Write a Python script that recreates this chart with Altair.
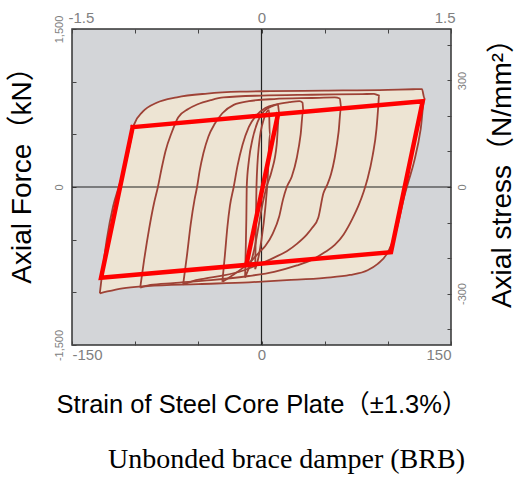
import altair as alt
import pandas as pd

# ---------------- data ----------------
# hysteresis loops: strain (x, -150..150) and axial force (y, kN)
loop1_x = [-128, -126, -122.5, -117.5, -113, -109.5, -106, -103, -101, -94, -83, -67, -43, -17, 7, 50, 100, 120, 127, 129,
           126, 121, 116, 113, 107, 99, 92, 84, 70, 50, 20, -10, -50, -90, -110, -122, -128]
loop1_y = [-1010, -810, -500, -185, 0, 136, 300, 470, 590, 715, 800, 852, 887, 905, 910, 915, 922, 928, 930, 840,
           550, 250, 40, -90, -400, -640, -730, -790, -835, -862, -885, -905, -922, -940, -962, -992, -1010]

loop2_x = [-96, -93, -89, -85, -82, -79, -76, -71, -66, -58, -51, -40, -30, 0, 40, 80, 89, 93, 92.5, 91, 88,
           84, 81, 77, 72, 65, 58, 50, 40, 28, 10, -10, -40, -70, -88, -96]
loop2_y = [-955, -700, -400, -150, 0, 180, 340, 520, 660, 740, 783, 825, 850, 868, 876, 882, 884, 870, 780, 550, 300,
           80, -40, -170, -300, -450, -550, -620, -690, -745, -805, -845, -885, -912, -930, -955]

loop3_x = [-62, -59, -56, -53, -51, -49, -46, -42, -37, -31, -22, -10, 10, 40, 58, 62, 63, 61, 58, 55, 52,
           49, 45, 40, 36, 28, 20, 10, 4, -5, -15, -30, -45, -55, -62]
loop3_y = [-925, -650, -350, -120, 0, 150, 320, 480, 600, 700, 780, 815, 835, 845, 850, 840, 760, 520, 280, 120, 20,
           -60, -290, -390, -450, -540, -610, -670, -704, -750, -795, -840, -870, -895, -925]

loop4_x = [-31, -29, -27, -25, -22, -19, -15, -10, -4, 3, 12, 22, 30, 32.5, 33, 31, 28, 24, 20, 17, 14,
           9, 3, -1, -8, -15, -22, -27, -31]
loop4_y = [-900, -650, -380, -180, 0, 200, 400, 570, 680, 750, 785, 805, 815, 800, 730, 500, 280, 100, 0, -120, -280,
           -440, -560, -610, -700, -770, -830, -870, -900]

loop5_x = [-13, -12.5, -12, -11.7, -10, -7, -3, 2, 8, 13, 14, 12, 8, 4, 1, -2, -5, -8, -11, -13]
loop5_y = [-860, -600, -300, 0, 250, 460, 620, 720, 765, 785, 700, 400, 150, 0, -150, -350, -550, -700, -800, -860]

loop6_x = [-5, -4.5, -4, -2, 2, 6, 6.5, 5, 3, 0, -3, -5]
loop6_y = [-780, -400, 0, 400, 650, 730, 500, 100, -200, -500, -700, -780]

# red bilinear model lines
red_outer_x = [-102, 127.6, 102.5, -127, -102]
red_outer_y = [568, 815, -619, -862, 568]
red_inner_x = [13, -12]
red_inner_y = [690, -740]

# axes
strain_domain = [-150, 150]
force_domain = [-1500, 1500]
pct_domain = [-1.5, 1.5]
stress_domain = [-445, 445]
x_ticks = [-150, -100, -50, 0, 50, 100, 150]
x_label_values = [-150, 0, 150]
x_label_texts = ["-150", "0", "150"]
top_ticks = [-1.5, -1.0, -0.5, 0, 0.5, 1.0, 1.5]
top_label_values = [-1.5, 0, 1.5]
top_label_texts = ["-1.5", "0", "1.5"]
y_ticks = [-1500, -1000, -500, 0, 500, 1000, 1500]
y_label_values = [-1500, 0, 1500]
y_label_texts = ["-1,500", "0", "1,500"]
r_ticks = [-400, -300, -200, -100, 0, 100, 200, 300, 400]
r_label_values = [-300, 0, 300]
r_label_texts = ["-300", "0", "300"]

x_title = "Strain of Steel Core Plate（±1.3%）"
y_title = "Axial Force（kN）"
r_title = "Axial stress（N/mm²）"
caption = "Unbonded brace damper (BRB)"

# ---------------- tables ----------------
loops = [(loop1_x, loop1_y), (loop2_x, loop2_y), (loop3_x, loop3_y),
         (loop4_x, loop4_y), (loop5_x, loop5_y), (loop6_x, loop6_y)]
rows = []
for lid, (xs, ys) in enumerate(loops):
    for i, (a, b) in enumerate(zip(xs, ys)):
        rows.append({"loop": lid, "i": i, "x": a, "y": b})
loop_df = pd.DataFrame(rows)

red_rows = []
for sid, (xs, ys) in enumerate([(red_outer_x, red_outer_y), (red_inner_x, red_inner_y)]):
    for i, (a, b) in enumerate(zip(xs, ys)):
        red_rows.append({"seg": sid, "i": i, "x": a, "y": b})
red_df = pd.DataFrame(red_rows)


def label_expr(values, texts):
    parts = [f"datum.value == {v} ? '{t}'" for v, t in zip(values, texts)]
    return " : ".join(parts) + " : ''"


SANS = "Liberation Sans, 'Noto Sans CJK JP'"
LABEL_GREY = "#808080"
TICK = "#444444"

bottom_axis = alt.Axis(
    orient="bottom", values=x_ticks, labelExpr=label_expr(x_label_values, x_label_texts),
    offset=-4, tickSize=4, tickColor=TICK, domain=False, grid=False,
    labelPadding=2, labelFont="Liberation Sans", labelFontSize=15, labelColor=LABEL_GREY,
    labelFlush=True, labelOverlap=False,
    title=x_title, titleFont=SANS, titleFontSize=25.5, titleFontWeight="normal", titleColor="black",
    titleY=71, titleBaseline="alphabetic")
left_axis = alt.Axis(
    orient="left", values=y_ticks, labelExpr=label_expr(y_label_values, y_label_texts),
    offset=-4, tickSize=4, tickColor=TICK, domain=False, grid=False,
    labelAngle=270, labelAlign="center", labelBaseline="bottom", labelPadding=8,
    labelFont="Liberation Sans", labelFontSize=11, labelColor=LABEL_GREY, labelOverlap=False,
    title=y_title, titleFont=SANS, titleFontSize=28, titleFontWeight="normal", titleColor="black",
    titleAngle=270, titleAlign="center", titleBaseline="alphabetic", titleX=-46, titleY=139)
top_axis = alt.Axis(
    orient="top", values=top_ticks, labelExpr=label_expr(top_label_values, top_label_texts),
    offset=-4, tickSize=4, tickColor=TICK, domain=False, grid=False,
    labelPadding=4, labelFont="Liberation Sans", labelFontSize=15, labelColor=LABEL_GREY,
    labelFlush=True, labelFlushOffset=4, labelOverlap=False, title=None)
right_axis = alt.Axis(
    orient="right", values=r_ticks, labelExpr=label_expr(r_label_values, r_label_texts),
    offset=-4, tickSize=4, tickColor=TICK, domain=False, grid=False,
    labelAngle=270, labelAlign="center", labelBaseline="top", labelPadding=5,
    labelFont="Liberation Sans", labelFontSize=11, labelColor=LABEL_GREY, labelOverlap=False,
    title=r_title, titleFont=SANS, titleFontSize=28, titleFontWeight="normal", titleColor="black",
    titleAngle=270, titleAlign="center", titleBaseline="alphabetic", titleX=63, titleY=137)

X = alt.X("x:Q", scale=alt.Scale(domain=strain_domain, nice=False, zero=False), axis=bottom_axis)
Y = alt.Y("y:Q", scale=alt.Scale(domain=force_domain, nice=False, zero=False), axis=left_axis)

fills = alt.Chart(loop_df).mark_line(fill="#ede4d3", stroke="#ede4d3", strokeWidth=0.5,
                                     interpolate="monotone").encode(
    x=X, y=Y, detail="loop:N", order="i:Q")
cross_v = alt.Chart(pd.DataFrame({"x": [0]})).mark_rule(color="#222222", strokeWidth=1.2).encode(x=X)
cross_h = alt.Chart(pd.DataFrame({"y": [0]})).mark_rule(color="#222222", strokeWidth=1.2).encode(y=Y)
strokes = alt.Chart(loop_df).mark_line(stroke="#9e4236", strokeWidth=1.8, strokeJoin="round",
                                       interpolate="monotone").encode(
    x=X, y=Y, detail="loop:N", order="i:Q")
red = alt.Chart(red_df).mark_line(color="#ff0000", strokeWidth=4.5, strokeJoin="miter", strokeCap="square").encode(
    x=X, y=Y, detail="seg:N", order="i:Q")

main = alt.layer(fills, cross_v, cross_h, strokes, red)

axis_layer = alt.Chart(pd.DataFrame({"xs": pct_domain, "ys": stress_domain})).mark_point(opacity=0).encode(
    x=alt.X("xs:Q", scale=alt.Scale(domain=pct_domain, nice=False, zero=False), axis=top_axis),
    y=alt.Y("ys:Q", scale=alt.Scale(domain=stress_domain, nice=False, zero=False), axis=right_axis))

chart = alt.layer(main, axis_layer).resolve_scale(x="independent", y="independent").properties(
    width=379, height=316,
    autosize="none",
    padding={"left": 72, "top": 29, "right": 66, "bottom": 140},
    background="white",
    title=alt.TitleParams(caption, orient="bottom", anchor="middle", frame="group",
                          font="Liberation Serif", fontSize=28, fontWeight="normal", color="black",
                          baseline="top", offset=28, dx=25),
).configure_view(fill="#d3d5d8", stroke="#333333", strokeWidth=1.5)

chart.save("out.html", embed_options={"renderer": "svg", "actions": False})
